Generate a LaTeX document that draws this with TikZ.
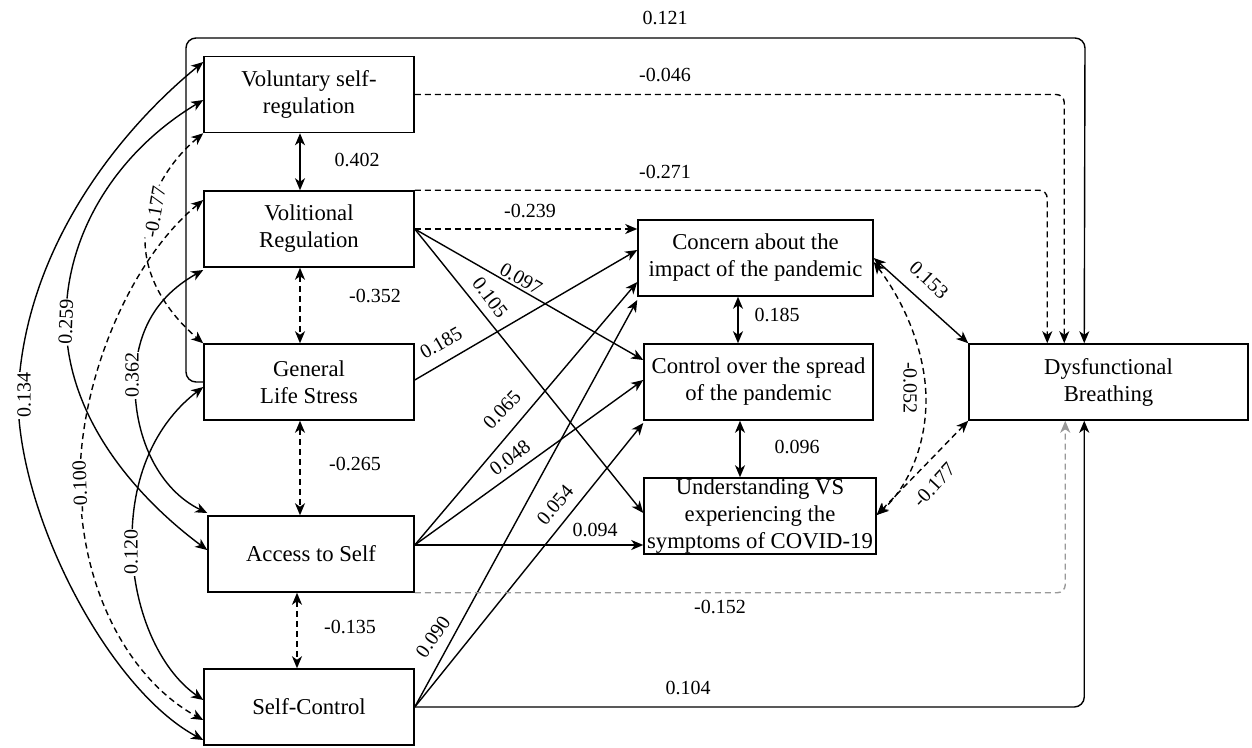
\documentclass[tikz,border=0pt]{standalone}
\usepackage{fontspec}
\setmainfont{Liberation Serif}
\usetikzlibrary{arrows.meta,calc}
\begin{document}
\begin{tikzpicture}[x=1pt,y=-1pt, line width=1.4pt,
  >={Stealth[length=12pt,width=10pt,inset=3.5pt]},
  box/.style={draw, line width=1.5pt, inner sep=0pt, align=center, minimum height=76pt, font=\fontsize{22.7}{27}\selectfont},
  lab/.style={font=\fontsize{20}{24}\selectfont, inner sep=1pt},
  wlab/.style={lab, fill=white},
  dsh/.style={dash pattern=on 6pt off 4pt},
  gry/.style={draw=black!40, dsh}]
\path[use as bounding box] (0,0) rectangle (1252,747);

% boxes
\node[box, minimum width=210pt] (vsr) at (309,94.5) {Voluntary self-\\regulation};
\node[box, minimum width=210pt] (vr) at (309,229) {Volitional\\Regulation};
\node[box, minimum width=210pt] (gls) at (309,382) {General\\Life Stress};
\node[box, minimum width=206pt] (ats) at (311,554) {Access to Self};
\node[box, minimum width=210pt] (sc) at (309,707) {Self-Control};
\node[box, minimum width=235pt] (con) at (755.5,258) {Concern about the\\impact of the pandemic};
\node[box, minimum width=229pt] (ctl) at (758.5,382) {Control over the spread\\of the pandemic};
\node[box, minimum width=232pt] (und) at (760,516) {Understanding VS\\experiencing the\\symptoms of COVID-19};
\node[box, minimum width=279pt] (db) at (1108.5,382) {Dysfunctional\\Breathing};

% vertical correlations among predictors
\draw[<->] (vsr.south -| 300,0) -- (vr.north -| 300,0);
\node[lab] (l402) at (357,160) {0.402};
\draw[<->, dsh] (vr.south -| 300,0) -- (gls.north -| 300,0);
\node[lab] (l352) at (375,296) {-0.352};
\draw[<->, dsh] (gls.south -| 300,0) -- (ats.north -| 300,0);
\node[lab] (l265) at (355,464) {-0.265};
\draw[<->, dsh] (ats.south -| 297,0) -- (sc.north -| 297,0);
\node[lab] (l135) at (350,627) {-0.135};

% left curved correlations
\draw[<->] (vsr.west |- 0,62) .. controls (120,130) and (22,250) .. (18,400) .. controls (20,520) and (110,690) .. (sc.west |- 0,740);
\node[wlab, rotate=90] (l134) at (24,395) {0.134};
\draw[<->] (vsr.west |- 0,100) .. controls (120,150) and (66,230) .. (66,320) .. controls (66,420) and (140,500) .. (ats.west |- 0,550);
\node[wlab, rotate=88] (l259) at (66,322) {0.259};
\draw[<->, dsh] (vsr.south west) .. controls (165,165) and (145,205) .. (145,240) .. controls (145,280) and (170,315) .. (gls.north west);
\node[wlab, rotate=80] (l177a) at (155,212) {-0.177};
\draw[<->, dsh] (vr.west |- 0,200) .. controls (130,260) and (80,380) .. (80,480) .. controls (80,590) and (130,680) .. (sc.west |- 0,720);
\node[wlab, rotate=92] (l100) at (80,487) {-0.100};
\draw[<->] (vr.west |- 0,270) .. controls (150,300) and (135,340) .. (135,385) .. controls (135,440) and (160,490) .. (ats.west |- 0,513);
\node[wlab, rotate=90] (l362) at (132,375) {0.362};
\draw[<->] (gls.west |- 0,387) .. controls (160,420) and (132,470) .. (132,540) .. controls (132,610) and (160,670) .. (sc.west |- 0,700);
\node[wlab, rotate=90] (l120) at (131,552) {0.120};

% paths to the mediators
\draw[->, dsh] (vr.east) -- (con.west |- vr.east);
\node[lab] (l239) at (530,211) {-0.239};
\draw[->] (vr.east) -- (ctl.west |- 0,360);
\node[lab, rotate=-30] (l097) at (521,279) {0.097};
\draw[->] (vr.east) -- (und.west |- 0,513);
\node[lab, rotate=-53] (l105) at (490,298) {0.105};
\draw[->] (gls.east |- 0,380) -- (con.west |- 0,250);
\node[lab, rotate=30] (l185a) at (441,343) {0.185};
\draw[->] (ats.east |- 0,545) -- (con.west |- 0,282);
\node[lab, rotate=47] (l065) at (502,410) {0.065};
\draw[->] (ats.east |- 0,545) -- (ctl.west |- 0,380);
\node[lab, rotate=37] (l048) at (510,458) {0.048};
\draw[->] (ats.east |- 0,545) -- (und.west |- 0,545);
\node[lab] (l094) at (595,530) {0.094};
\draw[->] (sc.east) -- (con.west |- 0,300);
\node[lab, rotate=50] (l054) at (555,505) {0.054};
\draw[->] (sc.east) -- (ctl.west |- 0,423);
\node[lab, rotate=55] (l090) at (433,637) {0.090};

% among mediators
\draw[<->] (con.south -| 738,0) -- (ctl.north -| 738,0);
\node[lab] (l185b) at (777,315) {0.185};
\draw[<->] (ctl.south -| 740,0) -- (und.north -| 740,0);
\node[lab] (l096) at (797,447) {0.096};

% mediators to outcome
\draw[<->] (con.east |- 0,258) -- (db.north west);
\node[lab, rotate=-43] (l153) at (929,280) {0.153};
\draw[<->, dsh] (con.east |- 0,262) .. controls (910,310) and (926,360) .. (926,400) .. controls (926,450) and (905,490) .. (und.east |- 0,515);
\node[lab, rotate=-90] (l052) at (910,388) {-0.052};
\draw[<->, dsh] (und.east |- 0,515) -- (db.south west);
\node[lab, rotate=47] (l177b) at (934,485) {-0.177};

% direct paths to outcome
\draw[->, rounded corners=10pt] (gls.west) -- (186,382) |- (1085,38) -- ([xshift=116pt]db.north west);
\node[lab] (l121) at (665,18) {0.121};
\draw[->, dsh, rounded corners=8pt] (vsr.east) -| ([xshift=96pt]db.north west);
\node[lab] (l046) at (665,75) {-0.046};
\draw[->, dsh, rounded corners=8pt] (vr.north east) -| ([xshift=79pt]db.north west);
\node[lab] (l271) at (665,172) {-0.271};
\draw[->, gry, rounded corners=8pt] (ats.south east) -| ([xshift=97pt]db.south west);
\node[lab] (l152) at (720,607) {-0.152};
\draw[->, rounded corners=10pt] (sc.east) -| ([xshift=116pt]db.south west);
\node[lab] (l104) at (688,688) {0.104};
\end{tikzpicture}
\end{document}
